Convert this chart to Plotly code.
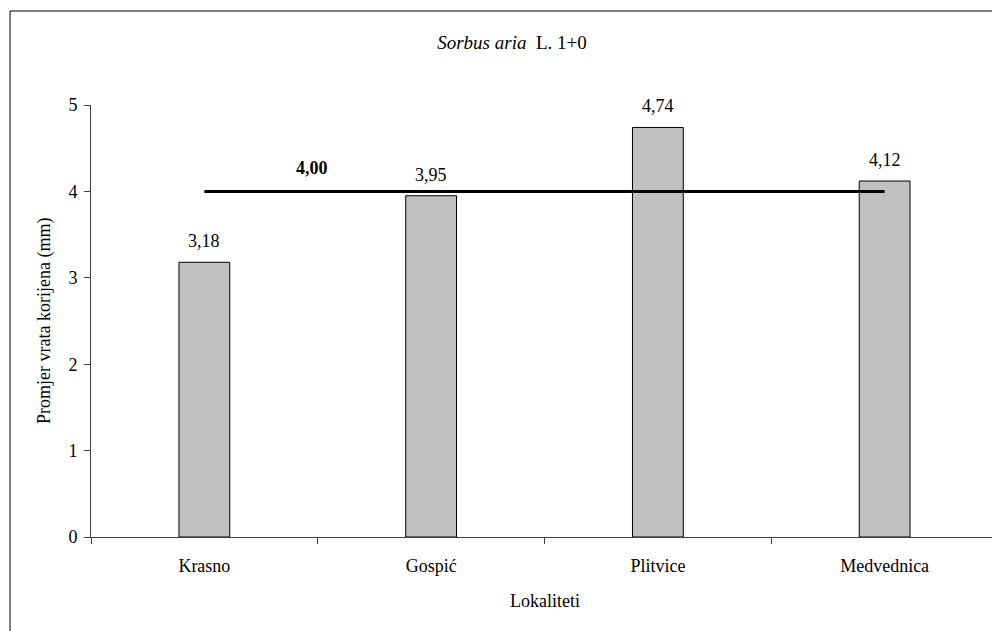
import plotly.graph_objects as go

categories = ["Krasno", "Gospić", "Plitvice", "Medvednica"]
values = [3.18, 3.95, 4.74, 4.12]
mean_value = 4.00
mean_series = [mean_value] * len(categories)
y_ticks = [0, 1, 2, 3, 4, 5]

# page is rendered with an 8px body margin; offsets compensate for that
W, H = 1000, 631
L, R, T, B = 83, 10, 97, 102
pw = W - L - R
ph = H - T - B

FF = "Liberation Serif"
FS = 18
font = dict(family=FF, size=FS, color="black")

fig = go.Figure()
fig.add_trace(go.Bar(
    x=categories, y=values,
    width=0.224,
    marker=dict(color="#C0C0C0", line=dict(color="black", width=1)),
    showlegend=False,
))
fig.add_trace(go.Scatter(
    x=categories, y=mean_series, mode="lines",
    line=dict(color="black", width=3), showlegend=False, hoverinfo="skip",
))

# value labels above bars
for c, v in zip(categories, values):
    fig.add_annotation(
        x=c, y=v, xref="x", yref="y",
        text=f"{v:.2f}".replace(".", ","), showarrow=False,
        yanchor="middle", yshift=21, font=font,
    )

fig.add_annotation(
    x=0.475, y=mean_value, xref="x", yref="y",
    text="<b>" + f"{mean_value:.2f}".replace(".", ",") + "</b>",
    showarrow=False, yanchor="middle", yshift=23, font=font,
)

# axis titles
fig.add_annotation(
    x=(36 - L) / pw, y=1 - (313 - T) / ph, xref="paper", yref="paper",
    text="Promjer vrata korijena (mm)", textangle=-90, showarrow=False,
    xanchor="center", yanchor="middle", font=font,
)
fig.add_annotation(
    x=0.5, y=-(593 - T - ph) / ph, xref="paper", yref="paper",
    text="Lokaliteti", showarrow=False,
    xanchor="center", yanchor="middle", font=font,
)

# outer chart border
fig.add_shape(
    type="rect", xref="paper", yref="paper",
    x0=(2 - L) / pw, x1=(W + 20 - L) / pw,
    y0=-(H + 20 - T - ph) / ph, y1=1 + (T - 3) / ph,
    line=dict(color="black", width=1), fillcolor="rgba(0,0,0,0)", layer="below",
)

fig.update_layout(
    width=W, height=H,
    margin=dict(l=L, r=R, t=T, b=B),
    paper_bgcolor="white", plot_bgcolor="white",
    separators=",.",
    font=font,
    title=dict(
        text="<i>Sorbus aria</i>  L. 1+0",
        x=(504) / W, xanchor="center",
        y=1 - 34 / H, yanchor="middle",
        font=dict(family=FF, size=19, color="black"),
    ),
    showlegend=False,
)
fig.update_xaxes(
    type="category",
    range=[-0.5, 3.5],
    showline=True, linecolor="#404040", linewidth=1,
    ticks="outside", tickson="boundaries", ticklen=6, tickcolor="#404040",
    tickfont=font, ticklabelstandoff=12,
    showgrid=False, zeroline=False,
)
fig.update_yaxes(
    range=[0, 5],
    tickvals=y_ticks,
    showline=True, linecolor="#404040", linewidth=1,
    ticks="outside", ticklen=6, tickcolor="#404040",
    tickfont=font, ticklabelstandoff=3,
    showgrid=False, zeroline=False,
)

fig.write_html("out.html")
